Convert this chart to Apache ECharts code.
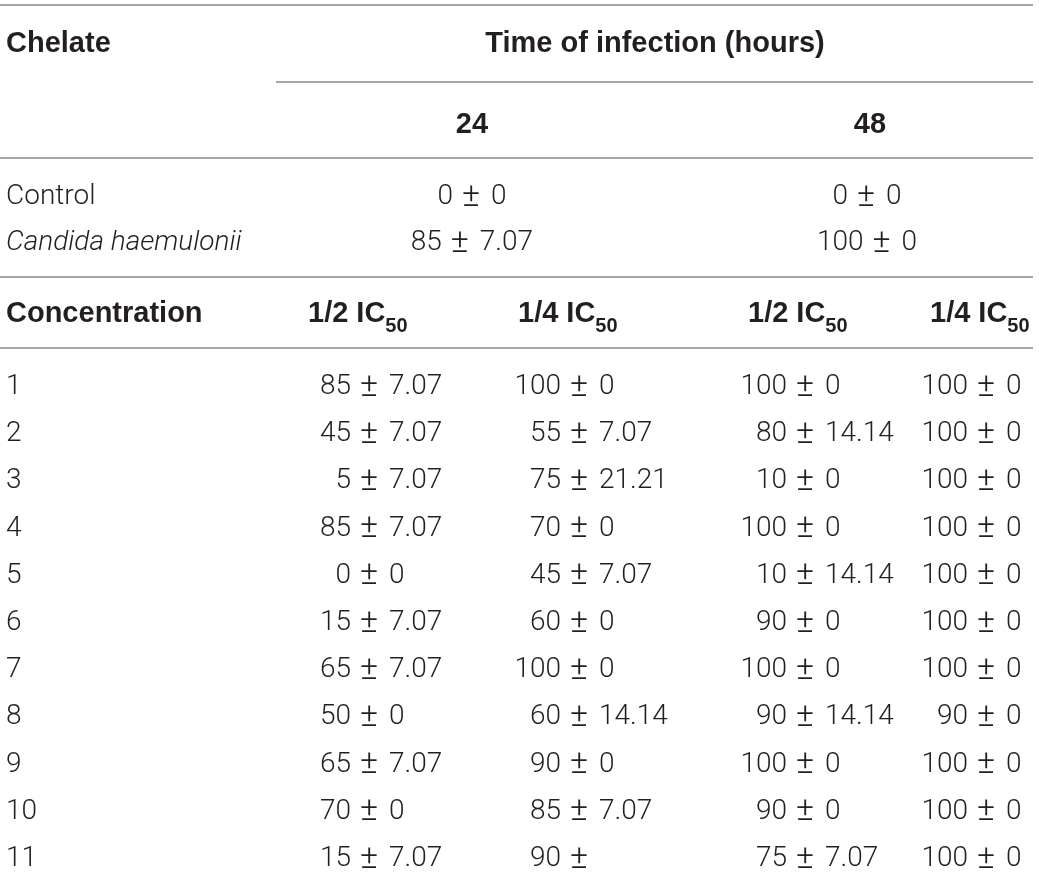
<!DOCTYPE html>
<html lang="en">
<head>
    <meta charset="UTF-8">
    <title>Chelate table</title>
    <script src="https://cdn.jsdelivr.net/npm/echarts@6/dist/echarts.min.js"></script>
    <style>
        html, body { margin: 0; padding: 0; background: #fff; }
    </style>
</head>
<body>
    <div id="main" style="width: 1039px; height: 873px;"></div>

    <script type="text/javascript">
        // table content
        const firstHeader = 'Chelate';
        const timeHeader = 'Time of infection (hours)';
        const timePoints = ['24', '48'];
        const refRows = ['Control', 'Candida haemulonii'];
        const ref24 = [['0', '0'], ['85', '7.07']];
        const ref48 = [['0', '0'], ['100', '0']];
        const concHeader = 'Concentration';
        const doseLabels = ['1/2 IC', '1/4 IC', '1/2 IC', '1/4 IC'];
        const doseSub = '50';
        const chelates = ['1', '2', '3', '4', '5', '6', '7', '8', '9', '10', '11'];

        const mean24Half = ['85', '45', '5', '85', '0', '15', '65', '50', '65', '70', '15'];
        const sd24Half = ['7.07', '7.07', '7.07', '7.07', '0', '7.07', '7.07', '0', '7.07', '0', '7.07'];
        const mean24Quarter = ['100', '55', '75', '70', '45', '60', '100', '60', '90', '85', '90'];
        const sd24Quarter = ['0', '7.07', '21.21', '0', '7.07', '0', '0', '14.14', '0', '7.07', ''];
        const mean48Half = ['100', '80', '10', '100', '10', '90', '100', '90', '100', '90', '75'];
        const sd48Half = ['0', '14.14', '0', '0', '14.14', '0', '0', '14.14', '0', '0', '7.07'];
        const mean48Quarter = ['100', '100', '100', '100', '100', '100', '100', '90', '100', '100', '100'];
        const sd48Quarter = ['0', '0', '0', '0', '0', '0', '0', '0', '0', '0', '0'];

        const ink = '#231f20';
        const rule = '#8a8a8a';
        const bodyFont = '300 28px Roboto';
        const pmFont = '300 34px Roboto';
        const boldFont = 'bold 29px "Liberation Sans"';

        // right edge of the mean in each value column
        const colRight = [351, 561, 787, 968];
        const doseLeft = [308, 518, 748, 930];
        const timeCenter = [472, 867];
        const PM_DX = 18, SD_DX = 38, DIGIT_W = 15.6, DOT_W = 7;

        const valueCols = [
            [mean24Half, sd24Half],
            [mean24Quarter, sd24Quarter],
            [mean48Half, sd48Half],
            [mean48Quarter, sd48Quarter]
        ];

        function txt(x, y, text, align, font) {
            return {
                type: 'text',
                style: {
                    x: x, y: y, text: text,
                    textAlign: align, textVerticalAlign: 'middle',
                    font: font, fill: ink
                }
            };
        }

        // mean ± sd, mean right aligned at x
        function cell(x, y, mean, sd) {
            let kids = [
                txt(x, y, mean, 'right', bodyFont),
                txt(x + PM_DX, y, '±', 'center', pmFont)
            ];
            if (sd !== '') kids.push(txt(x + SD_DX, y, sd, 'left', bodyFont));
            return kids;
        }

        function approxWidth(s) {
            let dots = s.split('.').length - 1;
            return (s.length - dots) * DIGIT_W + dots * DOT_W;
        }

        function hline(x1, x2, y) {
            return {
                type: 'line',
                shape: {x1: x1, y1: y, x2: x2, y2: y},
                style: {stroke: rule, lineWidth: 1.4}
            };
        }

        let series = valueCols.map((col, c) => ({
            type: 'custom',
            xAxisIndex: 1,
            yAxisIndex: 1,
            data: chelates.map((name, i) => [0, i]),
            encode: {x: 0, y: 1},
            renderItem: function (params, api) {
                let i = params.dataIndex;
                let y = api.coord([0, i])[1];
                return {type: 'group', children: cell(colRight[c], y, col[0][i], col[1][i])};
            }
        }));

        // control rows are centred under the time headers
        series.push({
            type: 'custom',
            xAxisIndex: 0,
            yAxisIndex: 0,
            data: refRows.map((name, i) => [0, i]),
            encode: {x: 0, y: 1},
            renderItem: function (params, api) {
                let i = params.dataIndex;
                let y = api.coord([0, i])[1];
                let kids = [];
                [ref24, ref48].forEach((ref, k) => {
                    let m = ref[i][0], s = ref[i][1];
                    let x = timeCenter[k] - (SD_DX + approxWidth(s) - approxWidth(m)) / 2;
                    kids = kids.concat(cell(x, y, m, s));
                });
                return {type: 'group', children: kids};
            }
        });

        let elements = [
            hline(0, 1033, 5),
            hline(276, 1033, 82),
            hline(0, 1033, 158),
            hline(0, 1033, 277),
            hline(0, 1033, 348),
            txt(6, 44, firstHeader, 'left', boldFont),
            txt(655, 44, timeHeader, 'center', boldFont),
            txt(timeCenter[0], 125, timePoints[0], 'center', boldFont),
            txt(timeCenter[1] + 3, 125, timePoints[1], 'center', boldFont),
            txt(6, 314, concHeader, 'left', boldFont)
        ];
        doseLabels.forEach((label, k) => {
            elements.push({
                type: 'text',
                style: {
                    x: doseLeft[k], y: 318,
                    text: '{m|' + label + '}{s|' + doseSub + '}',
                    textAlign: 'left', textVerticalAlign: 'middle',
                    rich: {
                        m: {font: boldFont, fill: ink, verticalAlign: 'bottom', padding: [0, 0, 8, 0]},
                        s: {font: 'bold 20px "Liberation Sans"', fill: ink, verticalAlign: 'bottom'}
                    }
                }
            });
        });

        const hiddenX = {type: 'value', min: 0, max: 1039, show: false};
        const rowAxis = {
            type: 'category',
            inverse: true,
            boundaryGap: false,
            axisLine: {show: false},
            axisTick: {show: false},
            splitLine: {show: false},
            axisLabel: {inside: true, margin: 6, color: ink, fontFamily: 'Roboto', fontWeight: 300, fontSize: 28}
        };

        let options = {
            animation: false,
            grid: [
                {left: 0, right: 0, top: 197, bottom: 630},
                {left: 0, right: 0, top: 387, bottom: 14}
            ],
            xAxis: [
                Object.assign({gridIndex: 0}, hiddenX),
                Object.assign({gridIndex: 1}, hiddenX)
            ],
            yAxis: [
                Object.assign({gridIndex: 0}, rowAxis, {
                    data: refRows.map((r, i) => i === 1 ? {value: r, textStyle: {fontStyle: 'italic'}} : r)
                }),
                Object.assign({gridIndex: 1}, rowAxis, {data: chelates})
            ],
            graphic: {elements: elements},
            series: series
        };

        let myChart = echarts.init(document.getElementById('main'));
        myChart.setOption(options);
    </script>
</body>
</html>
